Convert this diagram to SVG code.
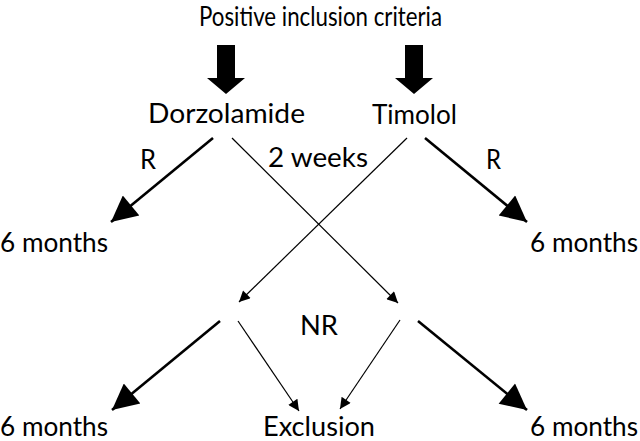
<svg xmlns="http://www.w3.org/2000/svg" width="640" height="441" viewBox="0 0 640 441">
<defs>
<style>
text{font-family:Lato,"Liberation Sans","DejaVu Sans",sans-serif;font-size:27px;fill:#000}
.thick{stroke:#000;stroke-width:2.6;fill:none}
.thin{stroke:#000;stroke-width:1.2;fill:none}
</style>
<marker id="big" viewBox="0 0 10 10" refX="10" refY="5" markerUnits="userSpaceOnUse" markerWidth="34" markerHeight="26" orient="auto">
<path d="M0,0 L10,5 L0,10 z" fill="#000"/>
</marker>
<marker id="small" viewBox="0 0 10 10" refX="10" refY="5" markerUnits="userSpaceOnUse" markerWidth="16" markerHeight="11" orient="auto">
<path d="M0,0 L10,5 L0,10 z" fill="#000"/>
</marker>
</defs>
<rect width="640" height="441" fill="#fff"/>
<g id="title"><text x="199" y="26" textLength="243" lengthAdjust="spacingAndGlyphs">Positive inclusion criteria</text></g>
<g id="dorzolamide"><text x="148" y="123" textLength="157" lengthAdjust="spacingAndGlyphs">Dorzolamide</text></g>
<g id="timolol"><text x="372" y="124" textLength="85" lengthAdjust="spacingAndGlyphs">Timolol</text></g>
<g id="months-left-top"><text x="0" y="252" textLength="108" lengthAdjust="spacingAndGlyphs">6 months</text></g>
<g id="months-right-top"><text x="530" y="252" textLength="108" lengthAdjust="spacingAndGlyphs">6 months</text></g>
<g id="nr"><text x="300" y="335" textLength="38" lengthAdjust="spacingAndGlyphs">NR</text></g>
<g id="months-left-bottom"><text x="0" y="436" textLength="108" lengthAdjust="spacingAndGlyphs">6 months</text></g>
<g id="exclusion"><text x="263" y="436" textLength="112" lengthAdjust="spacingAndGlyphs">Exclusion</text></g>
<g id="months-right-bottom"><text x="530" y="436" textLength="108" lengthAdjust="spacingAndGlyphs">6 months</text></g>
<g id="connectors">
<path d="M217,45 H235 V78 H245 L226,94 L207,78 H217 Z" fill="#000"/>
<path d="M405,45 H423 V78 H433 L414,94 L395,78 H405 Z" fill="#000"/>
<line class="thick" x1="213" y1="138" x2="111" y2="222" marker-end="url(#big)"/>
<line class="thick" x1="425" y1="138" x2="527" y2="222" marker-end="url(#big)"/>
<line class="thin" x1="232" y1="138" x2="398" y2="303" marker-end="url(#small)"/>
<line class="thin" x1="407" y1="138" x2="239" y2="302" marker-end="url(#small)"/>
<line class="thick" x1="220" y1="321" x2="112" y2="410" marker-end="url(#big)"/>
<line class="thick" x1="418" y1="321" x2="527" y2="410" marker-end="url(#big)"/>
<line class="thin" x1="238" y1="321" x2="299" y2="411" marker-end="url(#small)"/>
<line class="thin" x1="400" y1="320" x2="340" y2="409" marker-end="url(#small)"/>
<text x="140" y="169" textLength="16" lengthAdjust="spacingAndGlyphs">R</text>
<text x="486" y="169" textLength="15" lengthAdjust="spacingAndGlyphs">R</text>
<text x="268" y="167" textLength="100" lengthAdjust="spacingAndGlyphs">2 weeks</text>
</g>
</svg>
